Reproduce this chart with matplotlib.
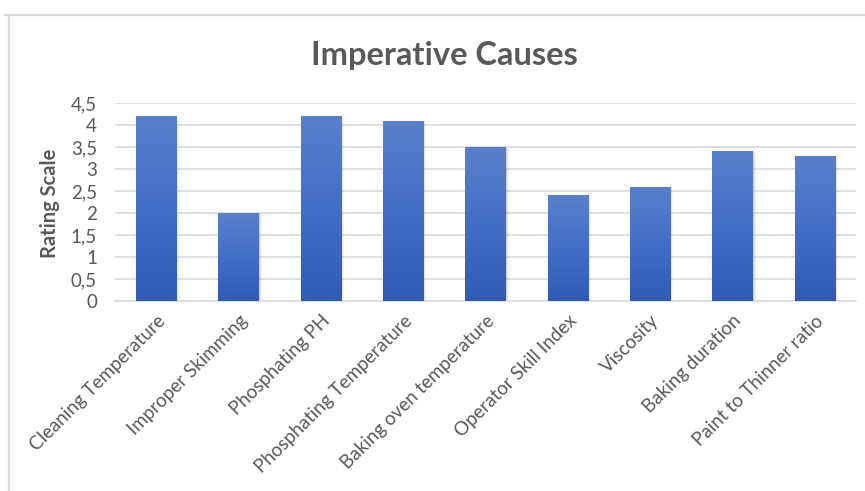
import matplotlib
matplotlib.use("Agg")
import matplotlib.pyplot as plt
import numpy as np
from matplotlib.ticker import FuncFormatter, MultipleLocator
from matplotlib.colors import LinearSegmentedColormap
from matplotlib.patches import Rectangle
from matplotlib.lines import Line2D

categories = [
    "Cleaning Temperature",
    "Improper Skimming",
    "Phosphating PH",
    "Phosphating Temperature",
    "Baking oven temperature",
    "Operator Skill Index",
    "Viscosity",
    "Baking duration",
    "Paint to Thinner ratio",
]
ratings = [4.2, 2.0, 4.2, 4.1, 3.5, 2.4, 2.6, 3.4, 3.3]

title = "Imperative Causes"
ylabel = "Rating Scale"

W, H = 865, 491
fig = plt.figure(figsize=(W / 100, H / 100), dpi=100)
fig.patch.set_facecolor("white")

# chart frame (top and left edges)
fig.add_artist(Line2D([5 / W, 864 / W], [1 - 14.5 / H, 1 - 14.5 / H],
                      color="#d9d9d9", lw=1.6, transform=fig.transFigure))
fig.add_artist(Line2D([8.5 / W, 8.5 / W], [0, 1 - 14.5 / H],
                      color="#d9d9d9", lw=1.6, transform=fig.transFigure))

left, right = 115 / W, 856 / W
bottom, top = 1 - 301 / H, 1 - 103 / H
ax = fig.add_axes([left, bottom, right - left, top - bottom])

font = "Lato"
grey = "#595959"

x = np.arange(len(categories))
width = 0.49
ax.set_xlim(-0.5, len(categories) - 0.5)
ax.set_ylim(0, 4.5)

cmap = LinearSegmentedColormap.from_list(
    "bar", ["#2f5bb5", "#3c68c2", "#4a74c8", "#5a80cc"])
grad = np.linspace(0, 1, 256).reshape(-1, 1)

bars = ax.bar(x, ratings, width=width, color="none", zorder=3)
for b in bars:
    bx, by = b.get_x(), b.get_y()
    bw, bh = b.get_width(), b.get_height()
    # soft shadow
    for k, a in enumerate([0.10, 0.06, 0.03]):
        off = 0.012 * (k + 1)
        sh = Rectangle((bx + off, by), bw, bh - 0.01 * (k + 1),
                       facecolor="#000000", alpha=a, lw=0, zorder=2)
        ax.add_patch(sh)
    im = ax.imshow(grad, extent=(bx, bx + bw, by, by + bh), origin="lower",
                   cmap=cmap, aspect="auto", zorder=3, interpolation="bilinear")
    im.set_clip_path(b)

ax.set_xlim(-0.5, len(categories) - 0.5)
ax.set_ylim(0, 4.5)

ax.yaxis.set_major_locator(MultipleLocator(0.5))
ax.yaxis.set_major_formatter(FuncFormatter(
    lambda v, p: ("%g" % v).replace(".", ",")))
ax.grid(axis="y", color="#d9d9d9", lw=1.2, zorder=0)
ax.set_axisbelow(True)
for s in ["top", "right", "left"]:
    ax.spines[s].set_visible(False)
ax.spines["bottom"].set_color("#d9d9d9")
ax.spines["bottom"].set_linewidth(1.2)
ax.tick_params(axis="both", length=0, colors=grey)
ax.tick_params(axis="y", pad=13)

for lab in ax.get_yticklabels():
    lab.set_fontfamily(font)
    lab.set_fontsize(13.5)
    lab.set_color(grey)

ax.set_xticks(x)
ax.set_xticklabels(categories, rotation=45, ha="right", va="top",
                   rotation_mode="anchor", fontfamily=font, fontsize=13.5,
                   color=grey)
ax.tick_params(axis="x", pad=8)

fig.text(50 / W, 1 - 203 / H, ylabel, rotation=90, ha="center", va="center",
         fontfamily=font, fontsize=14.5, fontweight="bold", color=grey)

fig.text(444 / W, 1 - 56 / H, title, ha="center", va="center",
         fontfamily=font, fontsize=23.5, fontweight="bold", color=grey)

fig.savefig("out.png", dpi=100, facecolor="white")
